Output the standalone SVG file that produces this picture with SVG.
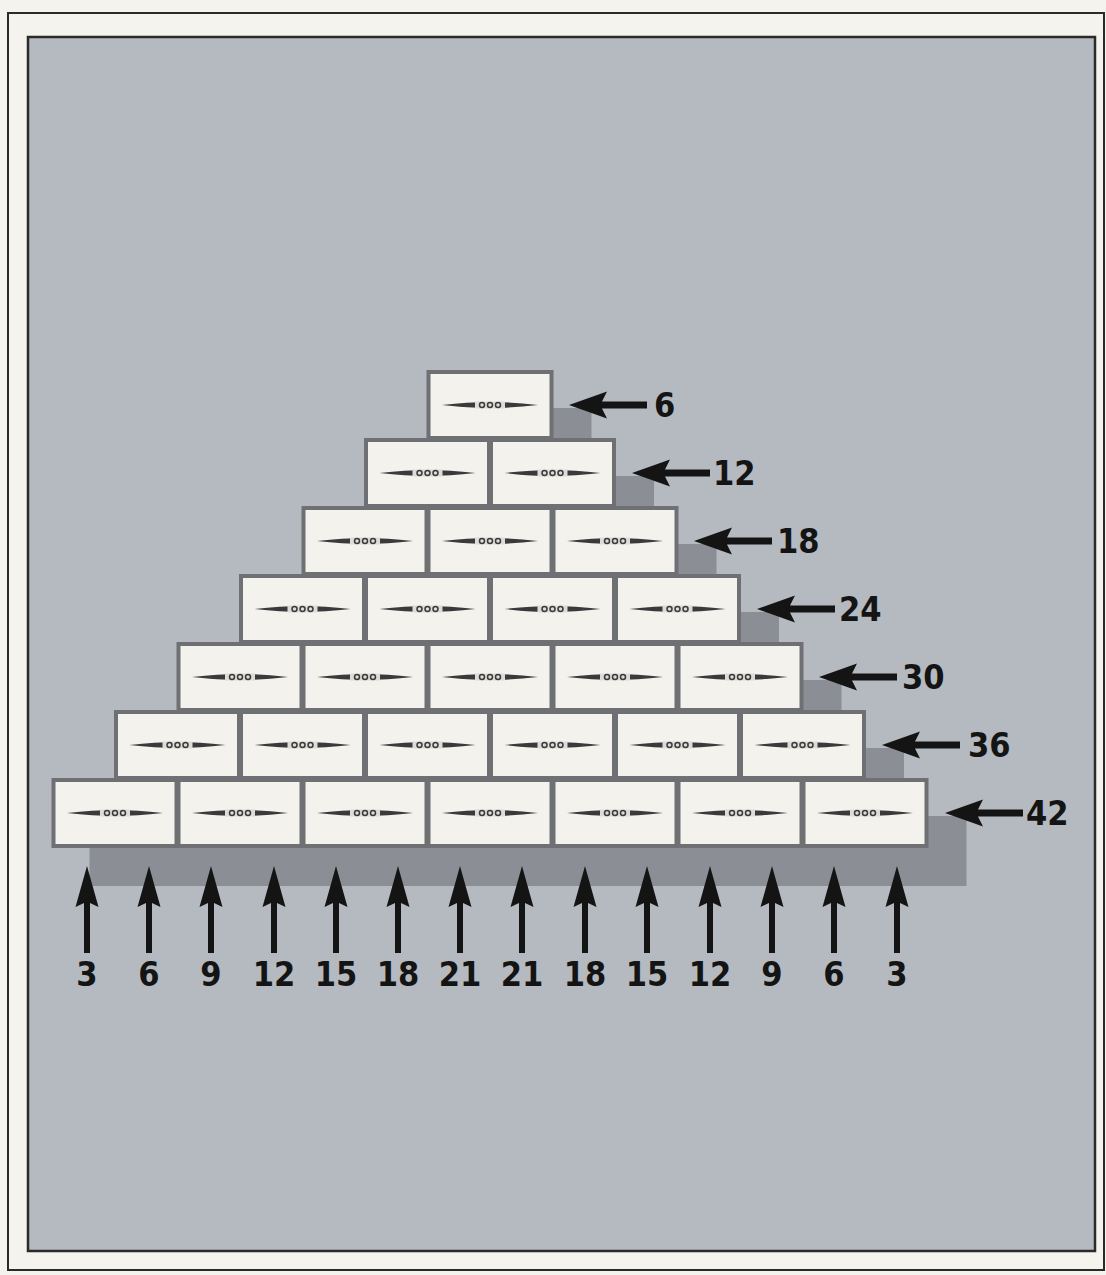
<svg xmlns="http://www.w3.org/2000/svg" xmlns:xlink="http://www.w3.org/1999/xlink" width="1106" height="1275" viewBox="0 0 1106 1275">
<style>
.blk{fill:#f3f2ec;stroke:#6f7073;stroke-width:4}
.shd{fill:#8b8e94}
.arr{fill:#141414}
.lbl{font-family:"DejaVu Sans Condensed","DejaVu Sans","Liberation Sans",sans-serif;font-stretch:condensed;font-weight:bold;font-size:34px;fill:#141414}
</style>
<defs>
<g id="orn">
<path d="M-48,0 Q-22,-3 0,-3 Q22,-3 48,0 Q22,3 0,3 Q-22,3 -48,0 Z" fill="#3a3a3c"/>
<rect x="-15" y="-3.5" width="30" height="7" fill="#dcdcd8"/>
<circle cx="-8" cy="0" r="2.5" fill="none" stroke="#3a3a3a" stroke-width="1.5"/>
<circle cx="0" cy="0" r="2.5" fill="none" stroke="#3a3a3a" stroke-width="1.5"/>
<circle cx="8" cy="0" r="2.5" fill="none" stroke="#3a3a3a" stroke-width="1.5"/>
</g>
<path id="la" d="M0,0 L38,-13.5 L33,-3.5 L78,-3.5 L78,3.5 L33,3.5 L38,13.5 Z"/>
<path id="ua" d="M0,0 L11.5,41 L3,37 L3,87 L-3,87 L-3,37 L-11.5,41 Z"/>
</defs>
<rect x="0" y="0" width="1106" height="1275" fill="#f4f3ee"/>
<rect x="8" y="13" width="1096" height="1257" fill="none" stroke="#2a2a2a" stroke-width="2"/>
<rect x="28" y="37" width="1067" height="1214" fill="#b5bac1" stroke="#2a2a2a" stroke-width="2.5"/>

<g id="shadows">
<rect class="shd" x="464.5" y="408" width="127" height="70"/>
<rect class="shd" x="402" y="476" width="252" height="70"/>
<rect class="shd" x="339.5" y="544" width="377" height="70"/>
<rect class="shd" x="277" y="612" width="502" height="70"/>
<rect class="shd" x="214.5" y="680" width="627" height="70"/>
<rect class="shd" x="152" y="748" width="752" height="70"/>
<rect class="shd" x="89.5" y="816" width="877" height="70"/>
</g>

<g id="blocks">
<g id="b1-1"><rect class="blk" x="428.5" y="372" width="123" height="66"/><use href="#orn" x="490" y="405"/></g>

<g id="b2-1"><rect class="blk" x="366" y="440" width="123" height="66"/><use href="#orn" x="427.5" y="473"/></g>
<g id="b2-2"><rect class="blk" x="491" y="440" width="123" height="66"/><use href="#orn" x="552.5" y="473"/></g>

<g id="b3-1"><rect class="blk" x="303.5" y="508" width="123" height="66"/><use href="#orn" x="365" y="541"/></g>
<g id="b3-2"><rect class="blk" x="428.5" y="508" width="123" height="66"/><use href="#orn" x="490" y="541"/></g>
<g id="b3-3"><rect class="blk" x="553.5" y="508" width="123" height="66"/><use href="#orn" x="615" y="541"/></g>

<g id="b4-1"><rect class="blk" x="241" y="576" width="123" height="66"/><use href="#orn" x="302.5" y="609"/></g>
<g id="b4-2"><rect class="blk" x="366" y="576" width="123" height="66"/><use href="#orn" x="427.5" y="609"/></g>
<g id="b4-3"><rect class="blk" x="491" y="576" width="123" height="66"/><use href="#orn" x="552.5" y="609"/></g>
<g id="b4-4"><rect class="blk" x="616" y="576" width="123" height="66"/><use href="#orn" x="677.5" y="609"/></g>

<g id="b5-1"><rect class="blk" x="178.5" y="644" width="123" height="66"/><use href="#orn" x="240" y="677"/></g>
<g id="b5-2"><rect class="blk" x="303.5" y="644" width="123" height="66"/><use href="#orn" x="365" y="677"/></g>
<g id="b5-3"><rect class="blk" x="428.5" y="644" width="123" height="66"/><use href="#orn" x="490" y="677"/></g>
<g id="b5-4"><rect class="blk" x="553.5" y="644" width="123" height="66"/><use href="#orn" x="615" y="677"/></g>
<g id="b5-5"><rect class="blk" x="678.5" y="644" width="123" height="66"/><use href="#orn" x="740" y="677"/></g>

<g id="b6-1"><rect class="blk" x="116" y="712" width="123" height="66"/><use href="#orn" x="177.5" y="745"/></g>
<g id="b6-2"><rect class="blk" x="241" y="712" width="123" height="66"/><use href="#orn" x="302.5" y="745"/></g>
<g id="b6-3"><rect class="blk" x="366" y="712" width="123" height="66"/><use href="#orn" x="427.5" y="745"/></g>
<g id="b6-4"><rect class="blk" x="491" y="712" width="123" height="66"/><use href="#orn" x="552.5" y="745"/></g>
<g id="b6-5"><rect class="blk" x="616" y="712" width="123" height="66"/><use href="#orn" x="677.5" y="745"/></g>
<g id="b6-6"><rect class="blk" x="741" y="712" width="123" height="66"/><use href="#orn" x="802.5" y="745"/></g>

<g id="b7-1"><rect class="blk" x="53.5" y="780" width="123" height="66"/><use href="#orn" x="115" y="813"/></g>
<g id="b7-2"><rect class="blk" x="178.5" y="780" width="123" height="66"/><use href="#orn" x="240" y="813"/></g>
<g id="b7-3"><rect class="blk" x="303.5" y="780" width="123" height="66"/><use href="#orn" x="365" y="813"/></g>
<g id="b7-4"><rect class="blk" x="428.5" y="780" width="123" height="66"/><use href="#orn" x="490" y="813"/></g>
<g id="b7-5"><rect class="blk" x="553.5" y="780" width="123" height="66"/><use href="#orn" x="615" y="813"/></g>
<g id="b7-6"><rect class="blk" x="678.5" y="780" width="123" height="66"/><use href="#orn" x="740" y="813"/></g>
<g id="b7-7"><rect class="blk" x="803.5" y="780" width="123" height="66"/><use href="#orn" x="865" y="813"/></g>
</g>

<g id="connectors" class="arr">
<use href="#la" x="569" y="405"/>
<use href="#la" x="632" y="473"/>
<use href="#la" x="694" y="541"/>
<use href="#la" x="757" y="609"/>
<use href="#la" x="819" y="677"/>
<use href="#la" x="882" y="745"/>
<use href="#la" x="945" y="813"/>

<use href="#ua" x="87" y="866"/>
<use href="#ua" x="149" y="866"/>
<use href="#ua" x="211" y="866"/>
<use href="#ua" x="274" y="866"/>
<use href="#ua" x="336" y="866"/>
<use href="#ua" x="398" y="866"/>
<use href="#ua" x="460" y="866"/>
<use href="#ua" x="522" y="866"/>
<use href="#ua" x="585" y="866"/>
<use href="#ua" x="647" y="866"/>
<use href="#ua" x="710" y="866"/>
<use href="#ua" x="772" y="866"/>
<use href="#ua" x="834" y="866"/>
<use href="#ua" x="897" y="866"/>
</g>

<g id="labels" class="lbl">
<text x="654" y="417">6</text>
<text x="713" y="485">12</text>
<text x="777" y="553">18</text>
<text x="839" y="621">24</text>
<text x="902" y="689">30</text>
<text x="968" y="757">36</text>
<text x="1026" y="825">42</text>

<g text-anchor="middle">
<text x="87" y="986">3</text>
<text x="149" y="986">6</text>
<text x="211" y="986">9</text>
<text x="274" y="986">12</text>
<text x="336" y="986">15</text>
<text x="398" y="986">18</text>
<text x="460" y="986">21</text>
<text x="522" y="986">21</text>
<text x="585" y="986">18</text>
<text x="647" y="986">15</text>
<text x="710" y="986">12</text>
<text x="772" y="986">9</text>
<text x="834" y="986">6</text>
<text x="897" y="986">3</text>
</g>
</g>
</svg>
